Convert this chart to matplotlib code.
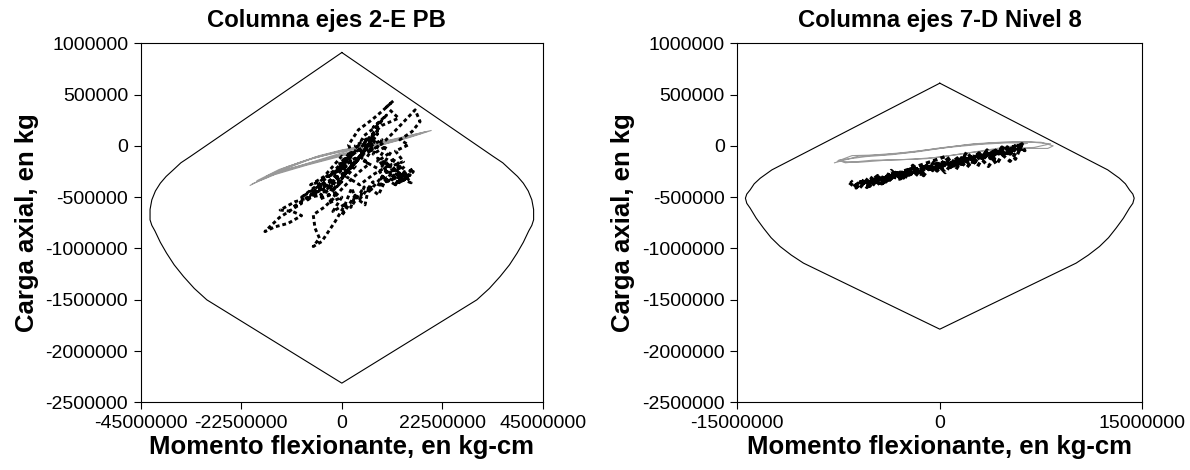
import matplotlib
matplotlib.use('Agg')
import matplotlib.pyplot as plt
from matplotlib.ticker import FuncFormatter
import numpy as np

plt.rcParams['font.family'] = ['Liberation Sans', 'DejaVu Sans']

#======================================================================
# Datos (momento en 1e6 kg-cm, carga en 1e3 kg) =======================
#======================================================================

# Diagrama de interaccion - Columna ejes 2-E PB
env_izq_M = [0, -33.9, -36.0, -37.7, -39.3, -40.6, -41.7, -42.5, -42.9, -42.9, -42.5, -41.8, -40.6, -39.2, -37.5, -35.4, -33.0, -30.2, 0,
             30.2, 33.0, 35.4, 37.5, 39.2, 40.6, 41.8, 42.5, 42.9, 42.9, 42.5, 41.7, 40.6, 39.3, 37.7, 36.0, 33.9, 0]
env_izq_P = [910, -104, -165, -234, -298, -364, -440, -526, -620, -721, -775, -830, -940, -1046, -1160, -1274, -1390, -1501, -2313,
             -1501, -1390, -1274, -1160, -1046, -940, -830, -775, -721, -620, -526, -440, -364, -298, -234, -165, -104, 910]

# Historia (gris) - Columna ejes 2-E PB
gris_izq_M = [-20.5, -15, -10, -5, 0, 6, 12, 17, 20, 15, 9, 3, -2, -7, -12, -16, -19,
              -14, -8, -3, 2, 8, 14, 18, 13, 7, 1, -4, -9, -14, -17, -12, -6, 0, 5, 10,
              6, 0, -6, -11, -15, -17.5, -13, -7, -1, 4, -2, -8, -14, -18,
              -12, -6, 0, 7, 13, 19, 12, 5, -1, -8, -15, -20]
gris_izq_P = [-385, -260, -170, -95, -40, 10, 70, 120, 150, 80, 10, -50, -110, -170, -230, -290, -340,
              -230, -140, -80, -30, 20, 80, 125, 60, 0, -70, -130, -190, -250, -300, -200, -115, -55, -10, 30,
              -20, -90, -160, -220, -270, -320, -220, -130, -60, -15, -95, -175, -255, -330,
              -215, -110, -45, 15, 75, 140, 50, -40, -110, -190, -280, -370]

# Historia (negro, discontinua) - Columna ejes 2-E PB
negro_izq_M = [0, 2, -1, 3, -3, 1, -5, -2, -8, -6, -11, -9, -14, -17.2, -15, -12, -9, -11, -13.8, -10.5,
               -7, -4.5, -6, -3, -1.5, 1, -0.5, 2.5, 1.5, 3.7, 6.7, 8.9, 11.5, 10, 12.7, 9, 7, 5, 7.5, 6,
               9, 12, 16.4, 17.5, 15.7, 13, 14.9, 12, 13.8, 11, 8, 10, 12.7, 15.3, 14, 16, 13, 10, 8.2, 6,
               5.2, 3, 2.2, 0.7, -1.5, -4.5, -6.4, -5, -6, -6.4, -4, -2, 0, 2, 4, 6, 4, 7, 5, 8,
               10, 14, 12, 9, 11, 7, 4, 1, 3, 0, -2, -4, -7, -5, -2, 1, 4, 6, 3, 5,
               -4, -1, -3, 0, -2, 1, -1, 2, 0, 3, 1, 4, 2, 5, 3, 6, 4, 7, 5, 8,
               6, 9, 7, 10, 8, 11, 9, 12, 10, 13, 11, 14, 12, 15, 13, 16, 14, 15.5, 12, 14,
               11, 13, 10, 8, 9, 6, 7, 4, 5, 2, 3, 0, 1, -2, 0, -3, -1, -5, -2, -7,
               -4, -9, -6, -3, 0, 2, 5, 8, 6, 9, 7, 10, 8, 5, 3, 1, -1]
negro_izq_P = [-150, -60, -220, -120, -300, -200, -420, -330, -540, -450, -600, -560, -700, -835, -790, -755, -680, -640, -625, -545,
               -500, -478, -440, -380, -315, -250, -170, -100, 10, 156, 253, 334, 438, 380, 270, 200, 120, 30, 60, -60,
               20, 150, 351, 237, 139, 60, 10, -50, -153, -200, -120, -250, -283, -283, -330, -250, -360, -310, -478, -400,
               -575, -500, -412, -575, -738, -933, -981, -900, -802, -672, -600, -520, -420, -330, -250, -180, -100, -20, -150, -220,
               -350, -280, -380, -300, -180, -280, -380, -300, -200, -100, -200, -300, -380, -350, -250, -130, -30, 80, 0, -80,
               -450, -300, -480, -350, -430, -250, -380, -200, -320, -150, -260, -100, -220, -40, -170, 20, -110, 80, -60, 120,
               -10, 60, -80, 0, -150, -60, -200, -120, -260, -200, -320, -250, -380, -300, -330, -220, -280, -360, -300, -200,
               -250, -150, -330, -400, -300, -450, -350, -520, -400, -600, -480, -680, -560, -640, -500, -560, -450, -520, -380, -480,
               -360, -500, -400, -300, -200, -100, 0, 150, 60, 250, 180, 300, 200, 100, -50, -150, -250]

# Diagrama de interaccion - Columna ejes 7-D Nivel 8
env_der_M = [0, -12.44, -13.3, -13.75, -14.05, -14.3, -14.4, -14.3, -14.05, -13.6, -13.06, -12.5, -11.83, -11.0, -10.1, 0,
             10.1, 11.0, 11.83, 12.5, 13.06, 13.6, 14.05, 14.3, 14.4, 14.3, 14.05, 13.75, 13.3, 12.44, 0]
env_der_P = [611, -234, -315, -370, -429, -470, -510, -560, -607, -705, -802, -895, -981, -1065, -1143, -1787,
             -1143, -1065, -981, -895, -802, -705, -607, -560, -510, -470, -429, -370, -315, -234, 611]

# Historia (gris) - Columna ejes 7-D Nivel 8
gris_der_M = [-7.8, -6, -4, -2, 0, 2, 4, 6, 7.5, 8.4, 8, 6, 4, 2, 0, -2, -4, -6, -7.6, -6.5,
              -5, -3, -1, 1, 3, 5, 6.5, 5, 3, 1, -1, -3, -5, -7, -7.5, -5.5, -3.5, -1.5, 0.5, 2.5,
              4.5, 6.5, 8.2, 7, 5]
gris_der_P = [-165, -100, -85, -60, -20, 10, 30, 40, 35, 0, -25, -25, -40, -70, -110, -130, -140, -160, -150, -95,
              -90, -70, -40, -10, 15, 30, 25, -10, -50, -90, -125, -135, -140, -165, -140, -105, -85, -55, -15, 20,
              35, 40, 20, -15, -30]

# Historia (negro, discontinua) - Columna ejes 7-D Nivel 8
negro_der_M = [-6.7, -6.2, -5.6, -5.0, -4.4, -3.8, -3.2, -2.6, -2.0, -1.4, -0.8, -0.2, 0.5, 1.2, 1.9, 2.6, 3.3, 4.0, 4.6, 5.3,
               6.0, 6.3, 5.6, 5.0, 4.3, 3.6, 2.9, 2.2, 1.5, 0.8, 0.1, -0.6, -1.2, -1.8, -2.4, -3.0, -3.6, -4.2, -4.8, -5.4,
               -5.9, -6.4, -5.8, -5.2, -4.6, -4.0, -3.4, -2.8, -2.2, -1.6, -1.0, -0.4, 0.3, 1.0, 1.7, 2.4, 3.1, 3.8, 4.5, 5.2,
               5.8, 6.2, 5.4, 4.7, 4.0, 3.3, 2.6, 1.9, 1.2, 0.5, -0.2, -0.9, -1.6, -2.3, -3.0, -3.7, -4.5, -5.3, -6.0,
               -5.5, -4.9, -4.3, -3.6, -2.9, -2.2, -1.5, -0.8, 0.0, 0.8, 1.6, 2.4, 3.2, 4.0, 4.8, 5.6, 5.0, 4.2, 3.4, 2.6,
               1.8, 1.0, 0.2, -0.6, -1.4, -2.2, -3.0, -3.8, -4.6, -5.4,
               0.5, 1.2, 2.0, 2.8, 3.5, 4.2, 5.0, 5.6, 6.1, 5.2, 4.4, 3.6, 2.8, 2.0, 1.2, 0.4, -0.4, -1.2, -2.0, -2.8,
               -3.6, -4.4, -5.2, -6.0, -6.6]
negro_der_P = [-360, -410, -330, -390, -290, -345, -250, -315, -210, -277, -175, -245, -135, -205, -93, -157, -56, -115, -12, -71,
               15, -46, 13, -75, -21, -132, -68, -174, -110, -211, -157, -248, -191, -294, -235, -323, -265, -363, -313, -405,
               -350, -400, -340, -395, -305, -352, -265, -318, -225, -280, -190, -250, -150, -200, -108, -160, -70, -125, -30, -80,
               5, -30, -45, -80, -50, -110, -90, -150, -130, -195, -170, -240, -215, -285, -255, -330, -300, -375, -345,
               -380, -330, -370, -300, -320, -250, -270, -200, -230, -150, -180, -100, -120, -50, -60, 0, -40, -90, -80, -140,
               -120, -180, -160, -230, -200, -280, -250, -330, -290, -370,
               -100, -230, -60, -200, -40, -180, -10, -130, 20, -150, -60, -200, -90, -210, -110, -260, -150, -290, -190, -330,
               -240, -380, -300, -420, -340]

titulos = ['Columna ejes 2-E PB', 'Columna ejes 7-D Nivel 8']
xticks_izq = [-45000000, -22500000, 0, 22500000, 45000000]
xticks_der = [-15000000, 0, 15000000]
yticks = [1000000, 500000, 0, -500000, -1000000, -1500000, -2000000, -2500000]

#======================================================================
# Figura ==============================================================
#======================================================================

fig = plt.figure(figsize = (11.9, 4.7), dpi = 100)
ax1 = fig.add_axes([0.1182, 0.1440, 0.3381, 0.7639])
ax2 = fig.add_axes([0.6196, 0.1440, 0.3403, 0.7639])

paneles = [
    (ax1, env_izq_M, env_izq_P, gris_izq_M, gris_izq_P, negro_izq_M, negro_izq_P, xticks_izq, 0.461, 2.1),
    (ax2, env_der_M, env_der_P, gris_der_M, gris_der_P, negro_der_M, negro_der_P, xticks_der, 0.5, 2.4),
]

for k, (ax, eM, eP, gM, gP, nM, nP, xt, xt_tit, lw_n) in enumerate(paneles):
    ax.plot(np.array(eM)*1e6, np.array(eP)*1e3, color = 'black', linewidth = 0.8)
    ax.plot(np.array(gM)*1e6, np.array(gP)*1e3, color = '#999999', linewidth = 0.8)
    ax.plot(np.array(nM)*1e6, np.array(nP)*1e3, color = 'black', linewidth = lw_n,
            linestyle = (0, (1.3, 1.0)))

    ax.set_xlim(xt[0], xt[-1])
    ax.set_ylim(-2500000, 1000000)
    ax.set_xticks(xt)
    ax.set_yticks(yticks)
    fmt = FuncFormatter(lambda v, p: '%d' % v)
    ax.xaxis.set_major_formatter(fmt)
    ax.yaxis.set_major_formatter(fmt)
    ax.tick_params(direction = 'out', length = 5, width = 0.8, labelsize = 14, pad = 4,
                   top = False, right = False)
    for s in ax.spines.values():
        s.set_linewidth(0.8)

    ax.set_title(titulos[k], fontsize = 17.2, fontweight = 'bold', pad = 12, x = xt_tit)
    ax.set_xlabel('Momento flexionante, en kg-cm', fontsize = 18.5, fontweight = 'bold', labelpad = 2)
    ax.set_ylabel('Carga axial, en kg', fontsize = 18.5, fontweight = 'bold', labelpad = 5)

plt.savefig('out.png', dpi = 100)
